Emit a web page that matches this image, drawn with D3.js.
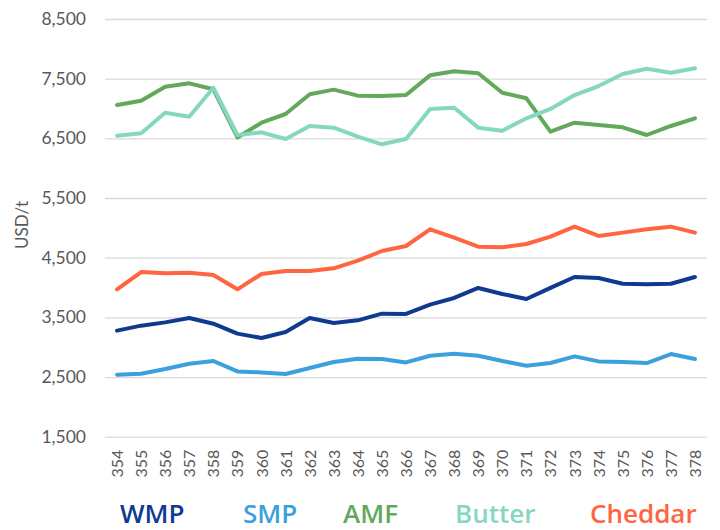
<!DOCTYPE html>
<html><head><meta charset="utf-8">
<script src="https://cdn.jsdelivr.net/npm/d3@7"></script>
<style>body{margin:0;background:#fff;} svg{display:block;}</style>
</head><body>
<svg id="chart" width="720" height="530"></svg>
<script>
const categories = ["354","355","356","357","358","359","360","361","362","363","364","365","366","367","368","369","370","371","372","373","374","375","376","377","378"];
const wmp = [3277,3361,3416,3490,3394,3227,3155,3255,3490,3406,3450,3562,3557,3713,3825,3993,3892,3808,3993,4177,4160,4064,4053,4064,4177];
const smp = [2539,2555,2634,2723,2768,2594,2577,2550,2651,2751,2807,2802,2745,2857,2890,2857,2768,2689,2735,2846,2762,2751,2735,2885,2802];
const amf = [7059,7131,7366,7422,7322,6515,6762,6908,7238,7316,7215,7210,7226,7556,7623,7590,7265,7171,6612,6762,6724,6685,6556,6707,6836];
const butter = [6545,6584,6930,6863,7349,6556,6601,6489,6707,6679,6528,6400,6489,6992,7014,6679,6628,6836,6992,7226,7377,7578,7667,7600,7674];
const cheddar = [3970,4260,4238,4249,4210,3970,4227,4277,4277,4322,4450,4612,4696,4976,4835,4684,4674,4730,4852,5020,4864,4920,4976,5020,4920];
const yTicks = [1500,2500,3500,4500,5500,6500,7500,8500];
const seriesNames = ["WMP","SMP","AMF","Butter","Cheddar"];
const seriesColors = ["#0f3a8f","#3aa1dc","#63a85b","#86d7c2","#ff6541"];
const seriesData = [wmp, smp, amf, butter, cheddar];

const svg = d3.select("#chart");
const mLeft = 105, mRight = 707, mTop = 19, mBottom = 436.7;
const x = d3.scaleBand().domain(categories).range([mLeft, mRight]);
const y = d3.scaleLinear().domain([1500, 8500]).range([mBottom, mTop]);

// gridlines
const yAxis = d3.axisLeft(y).tickValues(yTicks).tickFormat(d3.format(",")).tickSize(-(mRight-mLeft)).tickPadding(19);
const gy = svg.append("g").attr("transform", `translate(${mLeft},0)`).call(yAxis);
gy.select(".domain").remove();
gy.selectAll(".tick line").attr("stroke", "#d9d9d9").attr("stroke-width", 1.3);
gy.selectAll(".tick text").attr("fill", "#595959").style("font-family", "Lato, 'Open Sans', sans-serif").style("font-size", "17.5px");

// x axis
const xAxis = d3.axisBottom(x).tickSize(0).tickPadding(0);
const gx = svg.append("g").attr("transform", `translate(0,${mBottom})`).call(xAxis);
gx.select(".domain").remove();
gx.selectAll(".tick text")
  .attr("fill", "#595959")
  .style("font-family", "Lato, 'Open Sans', sans-serif").style("font-size", "16px")
  .attr("text-anchor", "end")
  .attr("transform", "translate(6,13) rotate(-90)")
  .attr("x", 0).attr("y", 0).attr("dy", 0);

// y title
svg.append("text").attr("transform", `translate(28,225) rotate(-90)`)
  .attr("text-anchor", "middle").attr("fill", "#595959")
  .style("font-family", "Lato, 'Open Sans', sans-serif").style("font-size", "17px")
  .text("USD/t");

// lines
const line = d3.line().x((d, i) => x(categories[i]) + x.bandwidth() / 2).y(d => y(d));
const drawOrder = [2, 3, 4, 0, 1];
drawOrder.forEach(k => {
  svg.append("path").datum(seriesData[k])
    .attr("fill", "none").attr("stroke", seriesColors[k]).attr("stroke-width", 4)
    .attr("stroke-linejoin", "round").attr("stroke-linecap", "round")
    .attr("d", line);
});

// legend
const legendX = [120, 243, 343, 455, 590];
seriesNames.forEach((n, i) => {
  svg.append("text").attr("x", legendX[i]).attr("y", 523)
    .attr("fill", seriesColors[i])
    .style("font-family", "'Open Sans', sans-serif").style("font-weight", "600").style("font-size", "26px")
    .text(n);
});
</script>
</body></html>
